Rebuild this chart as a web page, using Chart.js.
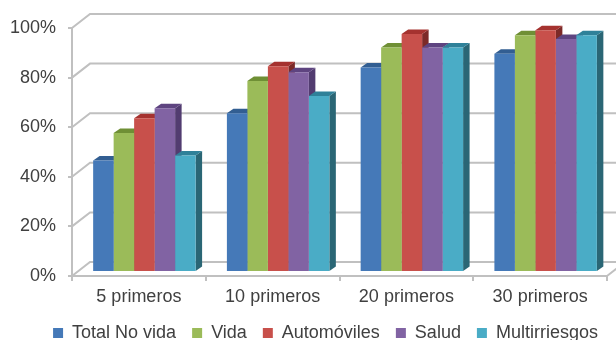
<!DOCTYPE html>
<html>
<head>
<meta charset="utf-8">
<style>
  html, body { margin: 0; padding: 0; background: #fff; }
  #wrap { width: 616px; height: 340px; }
</style>
<script src="https://cdn.jsdelivr.net/npm/chart.js@4"></script>
</head>
<body>
<div id="wrap"><canvas id="chart"></canvas></div>
<script>
const categories = ['5 primeros', '10 primeros', '20 primeros', '30 primeros'];
const seriesNames = ['Total No vida', 'Vida', 'Automóviles', 'Salud', 'Multirriesgos'];
const totalNoVida = [45, 64, 82.5, 88];
const vida = [56, 77, 90.5, 95.5];
const automoviles = [62, 83, 96, 97.5];
const salud = [66, 80.5, 90.5, 94];
const multirriesgos = [47, 71, 90.5, 95.5];

const frontColors = ['#4579b8', '#9bbb59', '#c8504b', '#8163a3', '#4aacc6'];
const topColors = ['#325e92', '#6f8f35', '#a5322f', '#5e4480', '#2f8199'];
const sideColors = ['#2c5c80', '#5f7a2e', '#7c2a28', '#523c70', '#2a6675'];
const gridColor = '#c0c0c0';

// depth of the floor and of the bars in the fake perspective
const wallDx = 18, wallDy = 14;
const barShiftX = 5.5, barShiftY = 4;
const barDepthX = 6.5, barDepthY = 4.5;
const legendShift = 22;

const walls = {
  id: 'walls',
  afterLayout(chart) {
    // legend is centred a bit right of the canvas middle
    chart.legend.left += legendShift;
    chart.legend.right += legendShift;
  },
  beforeDatasetsDraw(chart) {
    const { ctx, chartArea, scales } = chart;
    ctx.save();
    ctx.strokeStyle = gridColor;
    ctx.lineWidth = 2;
    scales.y.ticks.forEach(t => {
      const y = scales.y.getPixelForValue(t.value);
      ctx.beginPath();
      ctx.moveTo(chartArea.left, y);
      ctx.lineTo(chartArea.left + wallDx, y - wallDy);
      ctx.lineTo(chart.width, y - wallDy);
      ctx.stroke();
    });
    // right end of the floor
    ctx.beginPath();
    ctx.moveTo(chartArea.right, chartArea.bottom);
    ctx.lineTo(chartArea.right + wallDx, chartArea.bottom - wallDy);
    ctx.stroke();
    ctx.restore();

    // bars sit a little inside the floor, tops and sides go first
    ctx.save();
    ctx.translate(barShiftX, -barShiftY);
    categories.forEach((c, i) => {
      chart.data.datasets.forEach((ds, d) => {
        const bar = chart.getDatasetMeta(d).data[i];
        const l = bar.x - bar.width / 2, r = bar.x + bar.width / 2;
        ctx.fillStyle = sideColors[d];
        ctx.beginPath();
        ctx.moveTo(r, bar.y);
        ctx.lineTo(r + barDepthX, bar.y - barDepthY);
        ctx.lineTo(r + barDepthX, bar.base - barDepthY);
        ctx.lineTo(r, bar.base);
        ctx.closePath();
        ctx.fill();
        ctx.fillStyle = topColors[d];
        ctx.beginPath();
        ctx.moveTo(l, bar.y);
        ctx.lineTo(l + barDepthX, bar.y - barDepthY);
        ctx.lineTo(r + barDepthX, bar.y - barDepthY);
        ctx.lineTo(r, bar.y);
        ctx.closePath();
        ctx.fill();
      });
    });
    // left open, the bar fronts are drawn inside this shift
  },
  afterDatasetsDraw(chart) {
    chart.ctx.restore();
  }
};

const values = [totalNoVida, vida, automoviles, salud, multirriesgos];

new Chart(document.getElementById('chart'), {
  type: 'bar',
  data: {
    labels: categories,
    datasets: seriesNames.map((name, i) => ({
      label: name,
      data: values[i],
      backgroundColor: frontColors[i],
      categoryPercentage: 0.766,
      barPercentage: 1,
      clip: false
    }))
  },
  options: {
    responsive: true,
    maintainAspectRatio: false,
    animation: false,
    layout: { padding: { top: 28, right: 9, left: 0, bottom: -12 } },
    scales: {
      x: {
        afterFit(s) { s.height = 32; },
        border: { color: gridColor, width: 2 },
        grid: { color: gridColor, lineWidth: 2, drawOnChartArea: false, tickLength: 5 },
        ticks: { color: '#404040', padding: 5, maxRotation: 0, font: { family: 'Liberation Sans', size: 18 } }
      },
      y: {
        min: 0,
        max: 100,
        afterFit(s) { s.width = 72; },
        border: { color: gridColor, width: 2 },
        grid: { color: gridColor, lineWidth: 2, drawOnChartArea: false, tickLength: 4 },
        ticks: {
          stepSize: 20,
          color: '#404040',
          padding: 12,
          font: { family: 'Liberation Sans', size: 18 },
          callback: v => v + '%'
        }
      }
    },
    plugins: {
      title: { display: false },
      tooltip: { enabled: false },
      legend: {
        position: 'bottom',
        labels: {
          boxWidth: 10,
          boxHeight: 10,
          padding: 16,
          color: '#404040',
          font: { family: 'Liberation Sans', size: 18 }
        }
      }
    }
  },
  plugins: [walls]
});
</script>
</body>
</html>
